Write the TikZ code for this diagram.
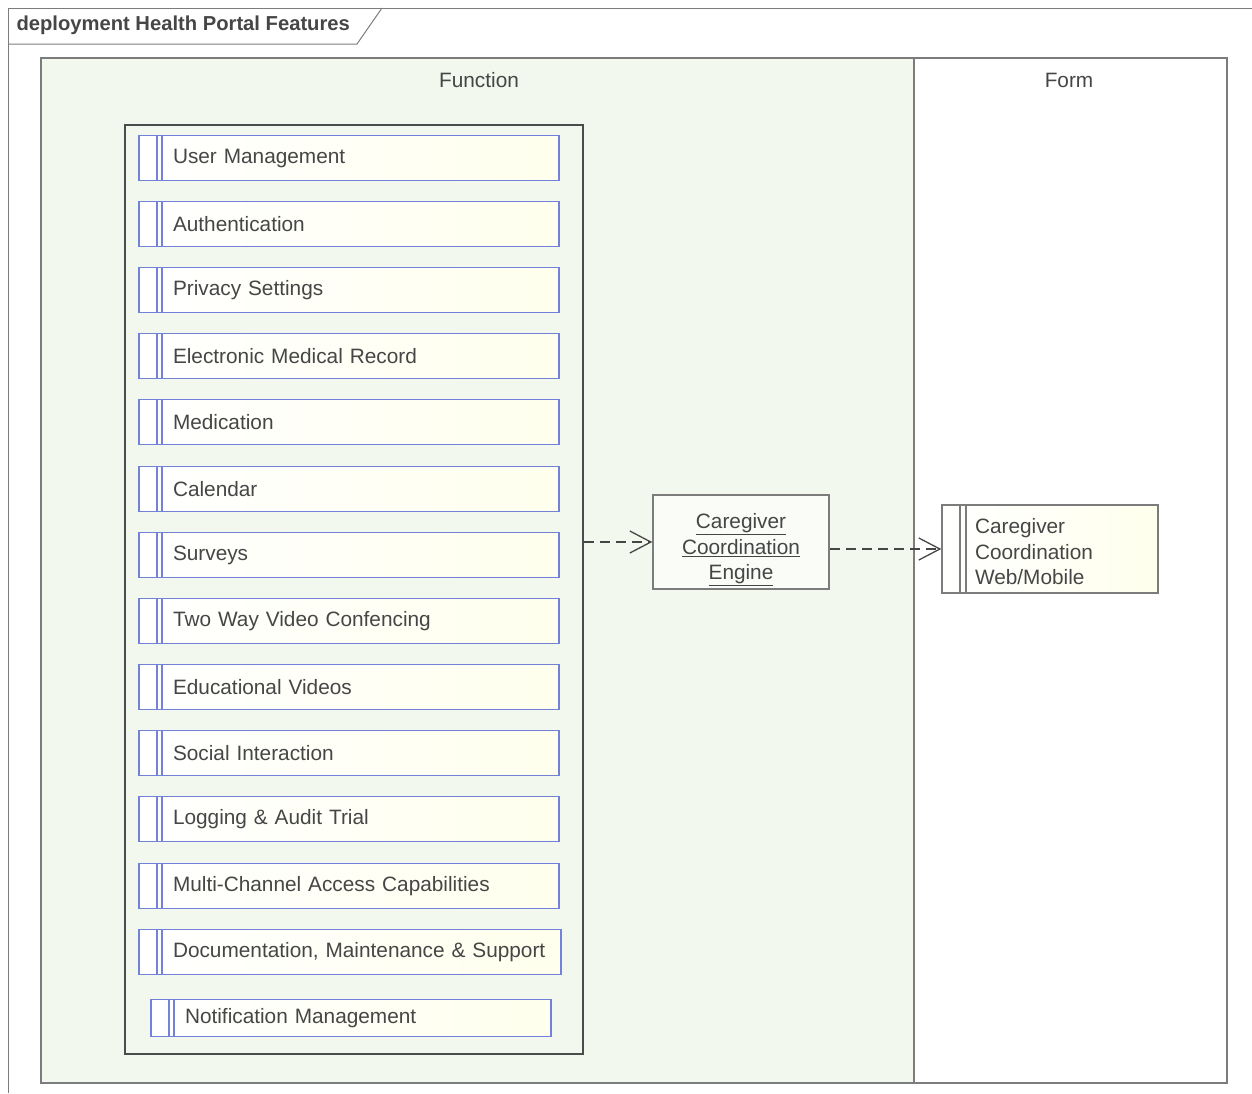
\documentclass[tikz,border=0pt]{standalone}
\usepackage{fontspec}
\setmainfont{Liberation Sans}
\usetikzlibrary{arrows.meta}

\definecolor{fnfill}{HTML}{F2F8EE}
\definecolor{featblue}{HTML}{7381D8}
\definecolor{txtgray}{HTML}{464646}
\definecolor{framegray}{HTML}{7C7C7C}

\tikzset{
  feat/.style={draw=featblue, line width=1.6pt, left color=white, right color=yellow!7,
    minimum width=420pt, minimum height=45pt, text width=408pt, inner xsep=6pt,
    align=left, text=txtgray, font=\fontsize{20.8}{25}\selectfont,
    execute at begin node=\hspace*{28pt},
    path picture={\draw[featblue, line width=1.2pt]
      ([xshift=18pt]path picture bounding box.north west) -- ([xshift=18pt]path picture bounding box.south west)
      ([xshift=23pt]path picture bounding box.north west) -- ([xshift=23pt]path picture bounding box.south west);}},
  dep/.style={draw=txtgray, line width=1.3pt, dash pattern=on 10pt off 6pt,
    -{Straight Barb[length=21pt,width=22pt,line width=1.3pt]}},
  part/.style={draw=framegray, line width=1.3pt},
}

\begin{document}
\begin{tikzpicture}[x=1pt, y=-1pt, font=\fontsize{20.8}{25.5}\selectfont]
\useasboundingbox (0,0) rectangle (1252,1093);

% frame and tab
\draw[framegray, line width=1pt] (8,1093) -- (8,8) -- (1252,8);
\draw[framegray, line width=1pt] (8,44) -- (357,44) -- (382,8);
\node[anchor=west, text=txtgray, font=\fontsize{20.2}{24}\selectfont\bfseries] (title) at (13,25) {deployment Health Portal Features};

% partitions
\filldraw[part, fill=fnfill] (41,58) rectangle (914,1083);
\draw[part] (914,58) rectangle (1227,1083);
\node[text=txtgray] (fnlabel) at (479,80) {Function};
\node[text=txtgray] (formlabel) at (1069,80) {Form};

% container of features
\node[draw=black!70, line width=1.5pt, fill=fnfill, minimum width=458pt, minimum height=929pt] (cont) at (354,589.5) {};

\node[feat] (usermgmt) at (349,158) {User Management};
\node[feat] (auth) at (349,224) {Authentication};
\node[feat] (privacy) at (349,290) {Privacy Settings};
\node[feat] (emr) at (349,356) {Electronic Medical Record};
\node[feat] (meds) at (349,422) {Medication};
\node[feat] (calendar) at (349,489) {Calendar};
\node[feat] (surveys) at (349,555) {Surveys};
\node[feat] (video) at (349,621) {Two Way Video Confencing};
\node[feat] (eduvideo) at (349,687) {Educational Videos};
\node[feat] (social) at (349,753) {Social Interaction};
\node[feat] (logging) at (349,819) {Logging \& Audit Trial};
\node[feat] (multich) at (349,886) {Multi-Channel Access Capabilities};
\node[feat, minimum width=422pt, text width=410pt] (docs) at (350,952) {Documentation, Maintenance \& Support};
\node[feat, minimum width=400pt, minimum height=37pt, text width=388pt] (notif) at (351,1018) {Notification Management};

% engine and web/mobile
\node[draw=framegray, line width=1.5pt, fill=white!55!fnfill, minimum width=176pt, minimum height=94pt] (engine) at (741,542) {};
\node[align=center, text=txtgray] (enginetext) at (741,550) {\underline{Caregiver}\\\underline{Coordination}\\\underline{Engine}};
\node[draw=framegray, line width=1.5pt, left color=white, right color=yellow!7, minimum width=216pt, minimum height=88pt,
  path picture={\draw[framegray, line width=1.3pt]
    ([xshift=18pt]path picture bounding box.north west) -- ([xshift=18pt]path picture bounding box.south west)
    ([xshift=24pt]path picture bounding box.north west) -- ([xshift=24pt]path picture bounding box.south west);}]
  (webmob) at (1050,549) {};
\node[inner xsep=0pt, text width=150pt, align=left, text=txtgray] (webtext) at (1050,552) {Caregiver\\Coordination\\Web/Mobile};

\draw[dep] (cont.east |- engine) -- (engine.west);
\draw[dep] (engine.east |- webmob) -- (webmob.west);
\end{tikzpicture}
\end{document}
